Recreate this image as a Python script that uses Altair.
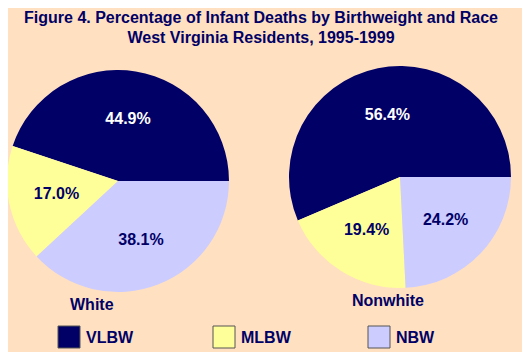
import math
import altair as alt
import pandas as pd

races = ["White", "Nonwhite"]
categories = ["VLBW", "MLBW", "NBW"]
white_pct = [44.9, 17.0, 38.1]
nonwhite_pct = [56.4, 19.4, 24.2]
stack_order = ["NBW", "MLBW", "VLBW"]  # drawn clockwise from 3 o'clock
colors = ["#000066", "#FFFF99", "#CCCCFF"]
title_lines = [
    "Figure 4. Percentage of Infant Deaths by Birthweight and Race",
    "West Virginia Residents, 1995-1999",
]

FONT = "Liberation Sans"
NAVY = "#000066"
BG = "#FFE0C0"

rows = []
for race, vals in zip(races, [white_pct, nonwhite_pct]):
    for c, v in zip(categories, vals):
        rows.append({"race": race, "cat": c, "pct": v,
                     "ord": stack_order.index(c), "label": f"{v:.1f}%"})
df = pd.DataFrame(rows)
names_df = pd.DataFrame({"race": races})
legend_df = pd.DataFrame({"cat": categories})

xs = alt.Scale(type="point", domain=races, range=[110, 392], padding=0)
ys = alt.Scale(type="point", domain=races, range=[123, 119], padding=0)
ts = alt.Scale(type="linear", domain=[0, 100],
               range=[math.pi / 2, math.pi / 2 + 2 * math.pi])
cs = alt.Scale(domain=categories, range=colors)

X = alt.X("race:N", scale=xs, axis=None)
Y = alt.Y("race:N", scale=ys, axis=None)

base = alt.Chart(df).transform_window(
    cum="sum(pct)", groupby=["race"], sort=[alt.SortField("ord")], frame=[None, 0]
).transform_calculate(
    start="datum.cum - datum.pct", mid="datum.cum - datum.pct / 2"
)

arcs = base.mark_arc(radius=111).encode(
    x=X, y=Y,
    theta=alt.Theta("start:Q", scale=ts),
    theta2="cum:Q",
    color=alt.Color("cat:N", scale=cs, legend=None),
)

labels = base.mark_text(font=FONT, fontSize=16, fontWeight="bold",
                        baseline="middle", align="center").encode(
    x=X, y=Y,
    theta=alt.Theta("mid:Q", scale=ts),
    radius=alt.value(63),
    text="label:N",
    color=alt.condition(alt.datum.cat == "VLBW", alt.value("white"), alt.value(NAVY)),
)

names = alt.Chart(names_df).mark_text(
    font=FONT, fontSize=16, fontWeight="bold", align="left",
    baseline="alphabetic", dx=-48, dy=129, color=NAVY
).encode(x=X, y=Y, text="race:N")

pies = alt.layer(arcs, labels, names)

lx = alt.Scale(type="point", domain=categories, range=[61, 371], padding=0)
squares = alt.Chart(legend_df).mark_square(
    size=484, opacity=1, stroke="#555555", strokeWidth=1
).encode(
    x=alt.X("cat:N", scale=lx, axis=None),
    y=alt.value(279),
    color=alt.Color("cat:N", scale=cs, legend=None),
)
legtext = alt.Chart(legend_df).mark_text(
    font=FONT, fontSize=16, fontWeight="bold", align="left",
    baseline="alphabetic", dx=17, color=NAVY
).encode(
    x=alt.X("cat:N", scale=lx, axis=None),
    y=alt.value(285),
    text="cat:N",
)
legend = alt.layer(squares, legtext)

chart = alt.layer(pies, legend).resolve_scale(
    x="independent", y="independent"
).properties(
    width=514, height=294,
    padding={"left": 0, "right": 0, "top": 50, "bottom": 0},
    autosize=alt.AutoSizeParams(type="none"),
    background=BG,
    title=alt.TitleParams(
        title_lines, font=FONT, fontSize=16, fontWeight="bold", color=NAVY,
        lineHeight=20, anchor="middle", dx=-4, offset=12,
    ),
).configure_view(stroke=None)

chart.save("out.html", embed_options={"renderer": "svg", "actions": False})
